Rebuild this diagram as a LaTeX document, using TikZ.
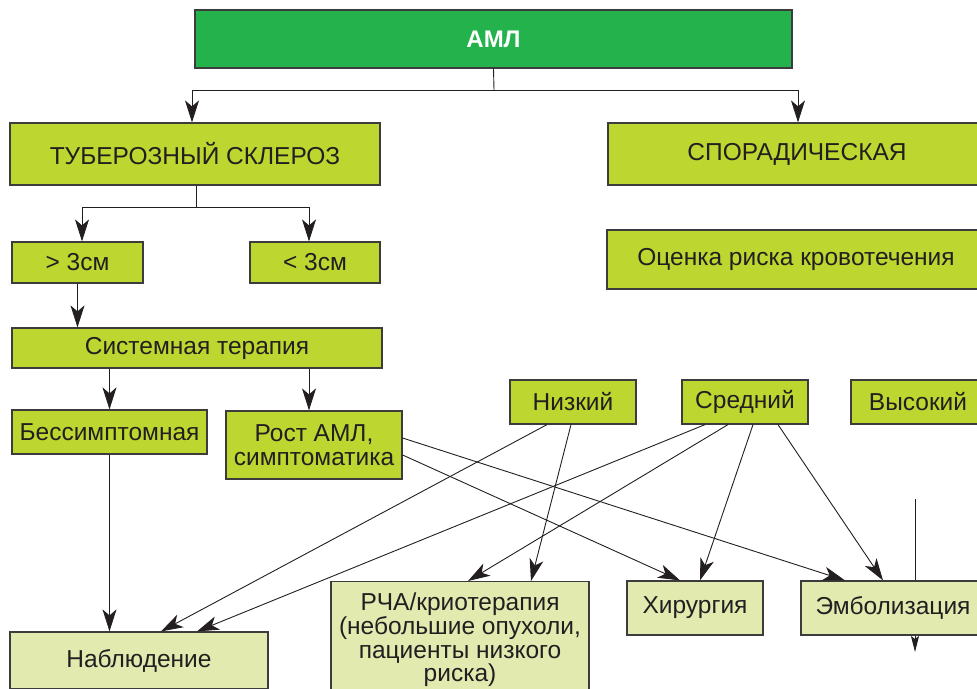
\documentclass[tikz,border=0pt]{standalone}
\usepackage{fontspec}
\setmainfont{Liberation Sans}
\usetikzlibrary{arrows.meta,calc}
\definecolor{maingreen}{RGB}{35,178,76}
\definecolor{midgreen}{RGB}{190,214,48}
\definecolor{palegreen}{RGB}{226,234,176}
\definecolor{ink}{RGB}{35,31,32}
\definecolor{edge}{RGB}{60,60,60}
\tikzset{
  box/.style={draw=edge, line width=1.2pt, rectangle, inner sep=0pt, align=center,
    text=ink, font=\fontsize{24.5}{24}\selectfont},
  midbox/.style={box, fill=midgreen},
  palebox/.style={box, fill=palegreen},
  topbox/.style={box, fill=maingreen, text=white, font=\bfseries\fontsize{24}{24}\selectfont},
  arr/.style={draw=ink, line width=0.9pt, -{Stealth[length=22pt,width=14pt,inset=6pt]}},
  smallarr/.style={draw=ink, line width=0.9pt, -{Stealth[length=16pt,width=8pt,inset=3pt]}},
  ln/.style={draw=ink, line width=0.9pt},
}
\begin{document}
\begin{tikzpicture}[x=1pt,y=-1pt]
\useasboundingbox (0,0) rectangle (977,688);
% boxes
\node[topbox, minimum width=597pt, minimum height=58pt] (aml) at (493.5,39) {АМЛ};
\node[midbox, minimum width=370pt, minimum height=62pt] (tub) at (195,154) {ТУБЕРОЗНЫЙ СКЛЕРОЗ};
\node[midbox, minimum width=378pt, minimum height=62pt] (spor) at (797,154) {СПОРАДИЧЕСКАЯ};
\node[midbox, minimum width=378pt, minimum height=59pt] (risk) at (796,259.5) {Оценка риска кровотечения};
\node[midbox, minimum width=131pt, minimum height=41pt] (gt) at (77.5,262.5) {> 3см};
\node[midbox, minimum width=130pt, minimum height=41pt] (lt) at (315,262.5) {< 3см};
\node[midbox, minimum width=370pt, minimum height=40pt] (sys) at (197,348) {Системная терапия};
\node[midbox, minimum width=195pt, minimum height=44pt] (bes) at (109.5,432) {Бессимптомная};
\node[midbox, minimum width=176pt, minimum height=68pt] (rost) at (314,445) {Рост АМЛ,\\симптоматика};
\node[midbox, minimum width=126pt, minimum height=44pt] (nizk) at (573,402) {Низкий};
\node[midbox, minimum width=126pt, minimum height=44pt] (sred) at (745,402) {Средний};
\node[midbox, minimum width=134pt, minimum height=44pt] (vys) at (918,402) {Высокий};
\node[palebox, minimum width=258pt, minimum height=57pt] (nabl) at (139,660.5) {Наблюдение};
\node[palebox, minimum width=258pt, minimum height=110pt, anchor=north] (rcha) at (460,581) {};
\node[align=center, text=ink, font=\fontsize{24.5}{23.7}\selectfont, inner sep=0pt] (rchatext) at (460,640) {РЧА/криотерапия\\(небольшие опухоли,\\пациенты низкого\\риска)};
\node[palebox, minimum width=136pt, minimum height=54pt] (hir) at (695,608) {Хирургия};
\node[palebox, minimum width=184pt, minimum height=54pt] (emb) at (893,608) {Эмболизация};
% tree connectors
\coordinate (j1) at (494,90);
\draw[ln] (aml.south) -- (j1);
\draw[arr] (j1) -| ([xshift=-3pt]tub.north);
\draw[arr] (j1) -| ([xshift=1pt]spor.north);
\coordinate (j2) at (196,207);
\draw[ln] (tub.south -| j2) -- (j2);
\draw[arr] (j2) -| ([xshift=4.5pt]gt.north);
\draw[arr] (j2) -| ([xshift=-6pt]lt.north);
\draw[arr] (gt.south) -- (gt.south |- sys.north);
\draw[arr] (bes.north |- sys.south) -- (bes.north);
\draw[arr] ([xshift=-5pt]rost.north |- sys.south) -- ([xshift=-5pt]rost.north);
\draw[arr] (bes.south) -- (bes.south |- nabl.north);
% risk connectors
\draw[arr] ([xshift=-26pt]nizk.south) -- ([xshift=22pt]nabl.north);
\draw[arr] ([xshift=-2pt]nizk.south) -- ([xshift=71pt]rcha.north);
\draw[arr] ([xshift=-40pt]sred.south) -- ([xshift=58pt]nabl.north);
\draw[arr] ([xshift=-17pt]sred.south) -- ([xshift=8pt]rcha.north);
\draw[arr] ([xshift=8pt]sred.south) -- ([xshift=5pt]hir.north);
\draw[arr] ([xshift=33pt]sred.south) -- ([xshift=-10pt]emb.north);
\draw[arr] ([yshift=7pt]rost.east) -- ([xshift=-48pt]emb.north);
\draw[arr] ([yshift=-10pt]rost.east) -- ([xshift=-15pt]hir.north);
% vertical line through Эмболизация
\coordinate (vtop) at (915,499);
\coordinate (vbot) at (915,652);
\draw[ln] (vtop) -- (vtop |- emb.north);
\draw[smallarr] (vtop |- emb.south) -- (vbot);
\end{tikzpicture}
\end{document}
